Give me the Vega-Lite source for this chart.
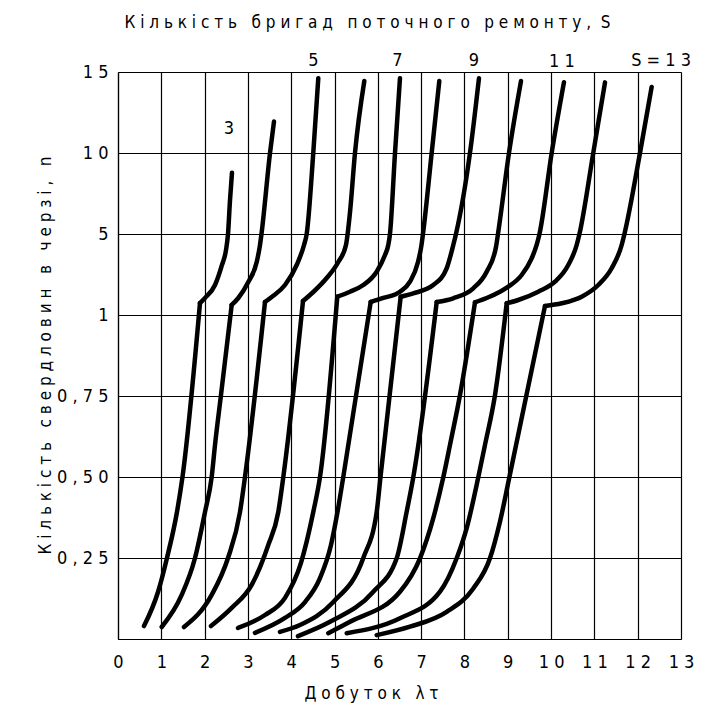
{
  "$schema": "https://vega.github.io/schema/vega-lite/v6.json",
  "width": 563,
  "height": 567,
  "autosize": {"type": "none"},
  "padding": {"left": 118, "top": 72, "right": 20, "bottom": 75},
  "background": "white",
  "title": {
    "text": "К і л ь к і с т ь \u00a0 б р и г а д \u00a0 п о т о ч н о г о \u00a0 р е м о н т у , \u00a0S",
    "anchor": "middle",
    "frame": "group",
    "dx": -32,
    "offset": 20,
    "fontSize": 17,
    "fontWeight": "normal",
    "font": "DejaVu Sans Condensed, sans-serif",
    "color": "black"
  },
  "config": {
    "view": {"stroke": null},
    "font": "DejaVu Sans Condensed, sans-serif",
    "axis": {
      "grid": true,
      "gridColor": "black",
      "gridOpacity": 1,
      "gridWidth": 1.2,
      "domainColor": "black",
      "domainWidth": 1.2,
      "ticks": false,
      "labelFontSize": 18,
      "labelColor": "black",
      "labelFont": "DejaVu Sans Condensed, sans-serif",
      "titleFont": "DejaVu Sans Condensed, sans-serif",
      "titleFontSize": 17,
      "titleFontWeight": "normal",
      "titleColor": "black"
    }
  },
  "datasets": {
    "curves": [
      {"S": 3, "part": "a", "x": 0.600, "n": 0.040},
      {"S": 3, "part": "a", "x": 0.924, "n": 0.145},
      {"S": 3, "part": "a", "x": 1.131, "n": 0.250},
      {"S": 3, "part": "a", "x": 1.362, "n": 0.392},
      {"S": 3, "part": "a", "x": 1.489, "n": 0.500},
      {"S": 3, "part": "a", "x": 1.893, "n": 1.590},
      {"S": 3, "part": "b", "x": 1.893, "n": 1.590},
      {"S": 3, "part": "b", "x": 2.009, "n": 1.840},
      {"S": 3, "part": "b", "x": 2.240, "n": 2.480},
      {"S": 3, "part": "b", "x": 2.401, "n": 3.470},
      {"S": 3, "part": "b", "x": 2.494, "n": 4.210},
      {"S": 3, "part": "b", "x": 2.540, "n": 5.000},
      {"S": 3, "part": "b", "x": 2.586, "n": 7.070},
      {"S": 3, "part": "b", "x": 2.632, "n": 8.780},

      {"S": 4, "part": "a", "x": 1.009, "n": 0.037},
      {"S": 4, "part": "a", "x": 1.471, "n": 0.136},
      {"S": 4, "part": "a", "x": 1.778, "n": 0.250},
      {"S": 4, "part": "a", "x": 2.009, "n": 0.392},
      {"S": 4, "part": "a", "x": 2.163, "n": 0.500},
      {"S": 4, "part": "a", "x": 2.240, "n": 0.599},
      {"S": 4, "part": "a", "x": 2.378, "n": 0.753},
      {"S": 4, "part": "a", "x": 2.625, "n": 1.494},
      {"S": 4, "part": "b", "x": 2.625, "n": 1.494},
      {"S": 4, "part": "b", "x": 2.778, "n": 1.840},
      {"S": 4, "part": "b", "x": 3.009, "n": 2.630},
      {"S": 4, "part": "b", "x": 3.203, "n": 3.617},
      {"S": 4, "part": "b", "x": 3.279, "n": 4.457},
      {"S": 4, "part": "b", "x": 3.313, "n": 5.000},
      {"S": 4, "part": "b", "x": 3.510, "n": 10.00},
      {"S": 4, "part": "b", "x": 3.602, "n": 11.94},

      {"S": 5, "part": "a", "x": 1.524, "n": 0.037},
      {"S": 5, "part": "a", "x": 2.163, "n": 0.136},
      {"S": 5, "part": "a", "x": 2.540, "n": 0.250},
      {"S": 5, "part": "a", "x": 2.817, "n": 0.392},
      {"S": 5, "part": "a", "x": 2.932, "n": 0.500},
      {"S": 5, "part": "a", "x": 3.394, "n": 1.642},
      {"S": 5, "part": "b", "x": 3.394, "n": 1.642},
      {"S": 5, "part": "b", "x": 3.549, "n": 1.889},
      {"S": 5, "part": "b", "x": 3.856, "n": 2.481},
      {"S": 5, "part": "b", "x": 4.126, "n": 3.469},
      {"S": 5, "part": "b", "x": 4.295, "n": 4.457},
      {"S": 5, "part": "b", "x": 4.357, "n": 5.000},
      {"S": 5, "part": "b", "x": 4.509, "n": 10.00},
      {"S": 5, "part": "b", "x": 4.625, "n": 14.62},

      {"S": 6, "part": "a", "x": 2.147, "n": 0.040},
      {"S": 6, "part": "a", "x": 2.625, "n": 0.096},
      {"S": 6, "part": "a", "x": 3.087, "n": 0.167},
      {"S": 6, "part": "a", "x": 3.470, "n": 0.290},
      {"S": 6, "part": "a", "x": 3.701, "n": 0.392},
      {"S": 6, "part": "a", "x": 3.817, "n": 0.500},
      {"S": 6, "part": "a", "x": 4.272, "n": 1.691},
      {"S": 6, "part": "b", "x": 4.272, "n": 1.691},
      {"S": 6, "part": "b", "x": 4.509, "n": 2.136},
      {"S": 6, "part": "b", "x": 4.819, "n": 2.827},
      {"S": 6, "part": "b", "x": 5.087, "n": 3.617},
      {"S": 6, "part": "b", "x": 5.264, "n": 4.457},
      {"S": 6, "part": "b", "x": 5.357, "n": 6.341},
      {"S": 6, "part": "b", "x": 5.472, "n": 10.00},
      {"S": 6, "part": "b", "x": 5.687, "n": 14.44},

      {"S": 7, "part": "a", "x": 2.771, "n": 0.034},
      {"S": 7, "part": "a", "x": 3.394, "n": 0.074},
      {"S": 7, "part": "a", "x": 3.856, "n": 0.127},
      {"S": 7, "part": "a", "x": 4.225, "n": 0.235},
      {"S": 7, "part": "a", "x": 4.509, "n": 0.392},
      {"S": 7, "part": "a", "x": 4.664, "n": 0.500},
      {"S": 7, "part": "a", "x": 5.063, "n": 1.904},
      {"S": 7, "part": "b", "x": 5.063, "n": 1.904},
      {"S": 7, "part": "b", "x": 5.357, "n": 2.150},
      {"S": 7, "part": "b", "x": 5.664, "n": 2.481},
      {"S": 7, "part": "b", "x": 5.973, "n": 3.138},
      {"S": 7, "part": "b", "x": 6.165, "n": 3.963},
      {"S": 7, "part": "b", "x": 6.241, "n": 4.457},
      {"S": 7, "part": "b", "x": 6.280, "n": 5.000},
      {"S": 7, "part": "b", "x": 6.396, "n": 10.00},
      {"S": 7, "part": "b", "x": 6.511, "n": 14.62},

      {"S": 8, "part": "a", "x": 3.163, "n": 0.019},
      {"S": 8, "part": "a", "x": 3.856, "n": 0.065},
      {"S": 8, "part": "a", "x": 4.318, "n": 0.114},
      {"S": 8, "part": "a", "x": 4.664, "n": 0.188},
      {"S": 8, "part": "a", "x": 4.918, "n": 0.290},
      {"S": 8, "part": "a", "x": 5.068, "n": 0.392},
      {"S": 8, "part": "a", "x": 5.202, "n": 0.500},
      {"S": 8, "part": "a", "x": 5.835, "n": 1.642},
      {"S": 8, "part": "b", "x": 5.835, "n": 1.642},
      {"S": 8, "part": "b", "x": 6.126, "n": 1.840},
      {"S": 8, "part": "b", "x": 6.511, "n": 2.150},
      {"S": 8, "part": "b", "x": 6.742, "n": 2.644},
      {"S": 8, "part": "b", "x": 6.927, "n": 3.617},
      {"S": 8, "part": "b", "x": 7.008, "n": 4.457},
      {"S": 8, "part": "b", "x": 7.042, "n": 5.000},
      {"S": 8, "part": "b", "x": 7.243, "n": 10.00},
      {"S": 8, "part": "b", "x": 7.419, "n": 14.44},

      {"S": 9, "part": "a", "x": 3.740, "n": 0.022},
      {"S": 9, "part": "a", "x": 4.202, "n": 0.043},
      {"S": 9, "part": "a", "x": 4.971, "n": 0.114},
      {"S": 9, "part": "a", "x": 5.664, "n": 0.250},
      {"S": 9, "part": "a", "x": 5.973, "n": 0.392},
      {"S": 9, "part": "a", "x": 6.061, "n": 0.500},
      {"S": 9, "part": "a", "x": 6.527, "n": 1.904},
      {"S": 9, "part": "b", "x": 6.527, "n": 1.904},
      {"S": 9, "part": "b", "x": 6.818, "n": 2.070},
      {"S": 9, "part": "b", "x": 7.280, "n": 2.481},
      {"S": 9, "part": "b", "x": 7.589, "n": 3.306},
      {"S": 9, "part": "b", "x": 7.742, "n": 4.457},
      {"S": 9, "part": "b", "x": 7.804, "n": 5.000},
      {"S": 9, "part": "b", "x": 8.127, "n": 10.00},
      {"S": 9, "part": "b", "x": 8.335, "n": 14.62},

      {"S": 10, "part": "a", "x": 4.156, "n": 0.009},
      {"S": 10, "part": "a", "x": 4.895, "n": 0.053},
      {"S": 10, "part": "a", "x": 5.895, "n": 0.146},
      {"S": 10, "part": "a", "x": 6.435, "n": 0.249},
      {"S": 10, "part": "a", "x": 6.666, "n": 0.393},
      {"S": 10, "part": "a", "x": 6.818, "n": 0.499},
      {"S": 10, "part": "a", "x": 7.359, "n": 1.642},
      {"S": 10, "part": "b", "x": 7.359, "n": 1.642},
      {"S": 10, "part": "b", "x": 7.742, "n": 1.825},
      {"S": 10, "part": "b", "x": 8.204, "n": 2.319},
      {"S": 10, "part": "b", "x": 8.513, "n": 3.138},
      {"S": 10, "part": "b", "x": 8.728, "n": 4.358},
      {"S": 10, "part": "b", "x": 8.774, "n": 5.000},
      {"S": 10, "part": "b", "x": 9.028, "n": 10.00},
      {"S": 10, "part": "b", "x": 9.305, "n": 14.44},

      {"S": 11, "part": "a", "x": 4.856, "n": 0.018},
      {"S": 11, "part": "a", "x": 5.357, "n": 0.053},
      {"S": 11, "part": "a", "x": 6.511, "n": 0.146},
      {"S": 11, "part": "a", "x": 6.973, "n": 0.249},
      {"S": 11, "part": "a", "x": 7.280, "n": 0.373},
      {"S": 11, "part": "a", "x": 7.511, "n": 0.499},
      {"S": 11, "part": "a", "x": 7.666, "n": 0.599},
      {"S": 11, "part": "a", "x": 7.897, "n": 0.753},
      {"S": 11, "part": "a", "x": 8.243, "n": 1.627},
      {"S": 11, "part": "b", "x": 8.243, "n": 1.627},
      {"S": 11, "part": "b", "x": 8.513, "n": 1.840},
      {"S": 11, "part": "b", "x": 8.820, "n": 2.150},
      {"S": 11, "part": "b", "x": 9.012, "n": 2.398},
      {"S": 11, "part": "b", "x": 9.321, "n": 2.975},
      {"S": 11, "part": "b", "x": 9.552, "n": 3.800},
      {"S": 11, "part": "b", "x": 9.667, "n": 4.457},
      {"S": 11, "part": "b", "x": 9.732, "n": 5.000},
      {"S": 11, "part": "b", "x": 10.014, "n": 10.00},
      {"S": 11, "part": "b", "x": 10.298, "n": 14.37},

      {"S": 12, "part": "a", "x": 5.281, "n": 0.018},
      {"S": 12, "part": "a", "x": 6.511, "n": 0.064},
      {"S": 12, "part": "a", "x": 7.435, "n": 0.146},
      {"S": 12, "part": "a", "x": 7.820, "n": 0.249},
      {"S": 12, "part": "a", "x": 8.051, "n": 0.342},
      {"S": 12, "part": "a", "x": 8.319, "n": 0.499},
      {"S": 12, "part": "a", "x": 8.474, "n": 0.599},
      {"S": 12, "part": "a", "x": 8.705, "n": 0.753},
      {"S": 12, "part": "a", "x": 8.975, "n": 1.578},
      {"S": 12, "part": "b", "x": 8.975, "n": 1.578},
      {"S": 12, "part": "b", "x": 9.243, "n": 1.741},
      {"S": 12, "part": "b", "x": 9.704, "n": 2.151},
      {"S": 12, "part": "b", "x": 10.090, "n": 2.644},
      {"S": 12, "part": "b", "x": 10.397, "n": 3.469},
      {"S": 12, "part": "b", "x": 10.591, "n": 4.457},
      {"S": 12, "part": "b", "x": 10.655, "n": 5.000},
      {"S": 12, "part": "b", "x": 10.974, "n": 10.00},
      {"S": 12, "part": "b", "x": 11.245, "n": 14.36},

      {"S": 13, "part": "a", "x": 5.973, "n": 0.012},
      {"S": 13, "part": "a", "x": 6.742, "n": 0.038},
      {"S": 13, "part": "a", "x": 7.589, "n": 0.084},
      {"S": 13, "part": "a", "x": 8.204, "n": 0.156},
      {"S": 13, "part": "a", "x": 8.589, "n": 0.249},
      {"S": 13, "part": "a", "x": 8.820, "n": 0.362},
      {"S": 13, "part": "a", "x": 9.037, "n": 0.499},
      {"S": 13, "part": "a", "x": 9.859, "n": 1.444},
      {"S": 13, "part": "b", "x": 9.859, "n": 1.444},
      {"S": 13, "part": "b", "x": 10.245, "n": 1.578},
      {"S": 13, "part": "b", "x": 10.707, "n": 1.904},
      {"S": 13, "part": "b", "x": 11.090, "n": 2.481},
      {"S": 13, "part": "b", "x": 11.399, "n": 3.306},
      {"S": 13, "part": "b", "x": 11.630, "n": 4.457},
      {"S": 13, "part": "b", "x": 11.694, "n": 5.000},
      {"S": 13, "part": "b", "x": 12.053, "n": 10.00},
      {"S": 13, "part": "b", "x": 12.323, "n": 14.08}
    ],
    "labels": [
      {"t": "3", "x": 2.56, "n": 11.5},
      {"t": "5", "x": 4.51, "n": 15.69},
      {"t": "7", "x": 6.45, "n": 15.69},
      {"t": "9", "x": 8.22, "n": 15.69},
      {"t": "1 1", "x": 10.25, "n": 15.62},
      {"t": "S = 1 3", "x": 12.54, "n": 15.69}
    ]
  },
  "layer": [
    {
      "data": {"name": "curves"},
      "mark": {"type": "line", "color": "black", "strokeWidth": 4.5, "strokeCap": "round", "strokeJoin": "round", "interpolate": "monotone"},
      "encoding": {
        "x": {
          "field": "x",
          "type": "quantitative",
          "scale": {"domain": [0, 13], "nice": false, "zero": false},
          "axis": {
            "values": [0, 1, 2, 3, 4, 5, 6, 7, 8, 9, 10, 11, 12, 13],
            "labelExpr": "join(split(datum.label, ''), ' ')",
            "labelPadding": 14,
            "labelBaseline": "top",
            "labelFlush": false,
            "labelOverlap": false,
            "labelDx": -4,
            "title": "Д о б у т о к \u00a0 λ τ",
            "titleX": 253,
            "titleY": 46,
            "titleAnchor": null,
            "titleAlign": "center",
            "titleBaseline": "top"
          }
        },
        "y": {
          "field": "n",
          "type": "quantitative",
          "scale": {"domain": [0, 1, 5, 10, 15], "range": [567, 243, 162, 81, 0], "nice": false, "zero": false},
          "axis": {
            "values": [0, 0.25, 0.5, 0.75, 1, 5, 10, 15],
            "labelExpr": "datum.value == 0 ? '' : replace(join(split(format(datum.value, datum.value < 1 ? '.2f' : 'd'), ''), ' '), '.', ',')",
            "labelPadding": 10,
            "labelOverlap": false,
            "labelFlush": false,
            "title": "К і л ь к і с т ь \u00a0 с в е р д л о в и н \u00a0 в \u00a0 ч е р з і , \u00a0 n",
            "titleX": -73,
            "titleY": 283,
            "titleAngle": -90,
            "titleAlign": "center",
            "titleBaseline": "middle"
          }
        },
        "detail": [{"field": "S"}, {"field": "part"}],
        "order": {"field": "n", "type": "quantitative"}
      }
    },
    {
      "data": {"name": "labels"},
      "mark": {"type": "text", "fontSize": 18, "color": "black", "align": "center", "baseline": "middle", "font": "DejaVu Sans Condensed, sans-serif"},
      "encoding": {
        "x": {"field": "x", "type": "quantitative"},
        "y": {"field": "n", "type": "quantitative"},
        "text": {"field": "t"}
      }
    }
  ]
}
